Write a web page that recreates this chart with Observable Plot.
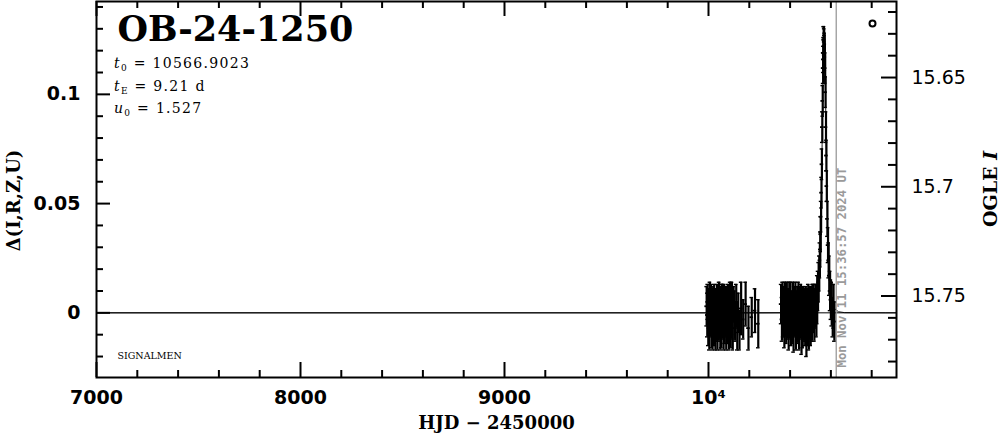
<!DOCTYPE html>
<html><head><meta charset="utf-8">
<script src="https://cdn.jsdelivr.net/npm/d3@7"></script>
<script src="https://cdn.jsdelivr.net/npm/@observablehq/plot@0.6"></script>
<style>body{margin:0;background:#fff}#chart svg{display:block}</style>
</head><body><div id="chart"></div>
<script>
// ---- text ----
const eventName = "OB-24-1250";
const statSym = ["t", "t", "u"];
const statSub = ["0", "E", "0"];
const statVal = ["10566.9023", "9.21 d", "1.527"];
const leftLabel = "Δ(I,R,Z,U)";
const bottomLabel = "HJD − 2450000";
const rightLabel = ["OGLE ", "I"];
const sourceLabel = "SIGNALMEN";
const nowLabel = "Mon Nov 11 15:36:57 2024 UT";
const nowHJD = 10626.15;

// ---- ticks ----
const xMajor = [7000, 8000, 9000, 10000];
const xMajorLabels = ["7000", "8000", "9000", "10⁴"];
const xMinor = [7200, 7400, 7600, 7800, 8200, 8400, 8600, 8800, 9200, 9400, 9600, 9800, 10200, 10400, 10600, 10800];
const yMajor = [0, 0.05, 0.1];
const yMajorLabels = ["0", "0.05", "0.1"];
const yMinor = [-0.02, -0.01, 0.01, 0.02, 0.03, 0.04, 0.06, 0.07, 0.08, 0.09, 0.11, 0.12, 0.13, 0.14];
const magZero = 15.7577;
const magMajor = [15.65, 15.70, 15.75];
const magMajorLabels = ["15.65", "15.7", "15.75"];
const magMinor = [15.62, 15.63, 15.64, 15.66, 15.67, 15.68, 15.69, 15.71, 15.72, 15.73, 15.74, 15.76, 15.77, 15.78];

// ---- observations: 2023 season ----
const s1t = [9991, 9994, 9996, 9999, 10002, 10004, 10007, 10010, 10012, 10015, 10018, 10020, 10023, 10026, 10028, 10031, 10034, 10036, 10039, 10042, 10044, 10047, 10050, 10052, 10055, 10058, 10060, 10063, 10066, 10068, 10071, 10074, 10076, 10079, 10082, 10084, 10087, 10090, 10092, 10095, 10098, 10100, 10103, 10106, 10109, 10112, 10115, 10119, 10123, 10127, 10131, 10136, 10141, 10146, 10152, 10160, 10170, 10182, 10196, 10212, 10228, 10244];
const s1d = [0.003, -0.001, 0.005, -0.004, 0.002, -0.008, 0.004, -0.002, 0.005, -0.006, 0.001, -0.007, 0.003, -0.005, 0.005, -0.003, -0.007, 0.002, -0.001, 0.005, -0.007, 0.000, -0.004, 0.006, -0.002, -0.008, 0.003, -0.006, 0.001, 0.005, -0.003, -0.007, 0.002, -0.005, 0.004, -0.001, -0.008, 0.003, -0.004, 0.005, -0.002, -0.007, 0.001, 0.004, -0.006, -0.003, 0.002, -0.007, 0.004, -0.001, -0.004, 0.003, -0.006, 0.000, -0.008, 0.002, -0.003, 0.004, -0.007, -0.002, 0.001, -0.005];
const s1e = [0.009, 0.010, 0.008, 0.011, 0.009, 0.009, 0.010, 0.009, 0.008, 0.010, 0.010, 0.010, 0.009, 0.010, 0.008, 0.011, 0.010, 0.009, 0.012, 0.008, 0.010, 0.011, 0.009, 0.008, 0.010, 0.009, 0.009, 0.010, 0.012, 0.008, 0.009, 0.010, 0.011, 0.009, 0.008, 0.010, 0.009, 0.009, 0.010, 0.008, 0.012, 0.010, 0.009, 0.010, 0.010, 0.009, 0.012, 0.010, 0.008, 0.011, 0.009, 0.010, 0.011, 0.009, 0.009, 0.012, 0.009, 0.010, 0.010, 0.009, 0.010, 0.011];

// ---- observations: 2024 season, baseline ----
const s2t = [10356, 10360, 10363, 10366, 10369, 10372, 10375, 10378, 10381, 10384, 10387, 10390, 10393, 10396, 10399, 10402, 10405, 10408, 10411, 10414, 10417, 10420, 10423, 10426, 10429, 10432, 10435, 10438, 10441, 10444, 10447, 10450, 10453, 10456, 10459, 10462, 10465, 10468, 10471, 10474, 10477, 10480, 10483, 10486, 10489, 10492, 10495, 10498, 10501, 10504, 10507, 10510, 10514, 10519, 10524, 10529, 10533];
const s2d = [0.004, -0.003, 0.006, -0.001, 0.003, -0.006, 0.005, 0.000, -0.004, 0.005, -0.002, 0.002, -0.007, 0.004, -0.001, 0.005, -0.005, 0.001, -0.003, 0.005, -0.008, 0.002, -0.002, 0.004, -0.006, 0.000, 0.003, -0.004, 0.005, -0.007, 0.001, -0.002, 0.004, -0.009, 0.002, -0.005, 0.003, -0.003, 0.000, -0.006, 0.002, -0.011, 0.001, -0.004, 0.004, -0.007, -0.002, 0.003, -0.005, 0.001, -0.003, 0.004, 0.002, -0.001, 0.003, 0.001, 0.006];
const s2e = [0.009, 0.010, 0.008, 0.010, 0.009, 0.010, 0.009, 0.011, 0.010, 0.009, 0.010, 0.009, 0.010, 0.010, 0.011, 0.009, 0.010, 0.009, 0.011, 0.009, 0.010, 0.010, 0.009, 0.010, 0.011, 0.010, 0.009, 0.010, 0.009, 0.010, 0.011, 0.010, 0.009, 0.010, 0.010, 0.011, 0.009, 0.010, 0.011, 0.009, 0.010, 0.009, 0.010, 0.011, 0.009, 0.010, 0.010, 0.009, 0.010, 0.011, 0.010, 0.009, 0.011, 0.012, 0.010, 0.012, 0.011];

// ---- observations: 2024 event ----
const s3t = [10537, 10540, 10543, 10546, 10548, 10550, 10552, 10554, 10556, 10558, 10560, 10562, 10563, 10564, 10565, 10566, 10567, 10568, 10569, 10570, 10572, 10574, 10576, 10578, 10580, 10583, 10586, 10589, 10592, 10596, 10600, 10604, 10609, 10613, 10617];
const s3d = [0.010, 0.014, 0.018, 0.024, 0.029, 0.036, 0.044, 0.055, 0.068, 0.085, 0.097, 0.112, 0.116, 0.119, 0.125, 0.125, 0.124, 0.122, 0.122, 0.117, 0.112, 0.101, 0.085, 0.072, 0.058, 0.043, 0.031, 0.024, 0.017, 0.010, 0.006, 0.004, -0.002, 0.003, -0.004];
const s3e = [0.009, 0.009, 0.008, 0.008, 0.008, 0.008, 0.007, 0.007, 0.007, 0.007, 0.007, 0.007, 0.006, 0.007, 0.006, 0.006, 0.006, 0.005, 0.006, 0.006, 0.007, 0.007, 0.007, 0.007, 0.007, 0.008, 0.008, 0.008, 0.009, 0.009, 0.009, 0.010, 0.009, 0.010, 0.009];

// ---- model curve ----
const modelT = [7000, 10267, 10467, 10497, 10517, 10527, 10537, 10542, 10547, 10549, 10552, 10555, 10557, 10559, 10561, 10563, 10565, 10567, 10569, 10571, 10573, 10575, 10577, 10579, 10582, 10585, 10587, 10592, 10597, 10607, 10617, 10637, 10667, 10867, 10921];
const modelD = [0, 0, 0.0001, 0.0005, 0.002, 0.004, 0.0098, 0.016, 0.027, 0.034, 0.0465, 0.063, 0.077, 0.091, 0.106, 0.118, 0.127, 0.130, 0.127, 0.118, 0.106, 0.091, 0.077, 0.063, 0.0465, 0.034, 0.027, 0.016, 0.0098, 0.004, 0.002, 0.0005, 0.0001, 0, 0];

// ---- build tables ----
const obs = [];
[[s1t, s1d, s1e], [s2t, s2d, s2e], [s3t, s3d, s3e]].forEach(([T, D, E]) =>
  T.forEach((t, i) => obs.push({t, d: D[i], e: E[i]})));
const model = modelT.map((t, i) => ({t, d: modelD[i]}));

const W = 999, H = 434, mL = 96, mR = 103, mT = 1, mB = 57;
const xDom = [7000, 10921.6], yDom = [-0.0296, 0.1425];
const xPerPx = (xDom[1] - xDom[0]) / (W - mL - mR);
const yPerPx = (yDom[1] - yDom[0]) / (H - mT - mB);
const capHalf = 1.8 * xPerPx;

const sans = "DejaVu Sans", serif = "DejaVu Serif";
const tickW = 2;

const chart = Plot.plot({
  width: W, height: H,
  marginLeft: mL, marginRight: mR, marginTop: mT, marginBottom: mB,
  style: {fontFamily: serif, background: "#fff", overflow: "visible"},
  x: {domain: xDom, axis: null},
  y: {domain: yDom, axis: null},
  marks: [
    // zero line and model
    Plot.ruleY([0], {stroke: "black", strokeWidth: 1}),
    Plot.line(model, {x: "t", y: "d", stroke: "black", strokeWidth: 0.9}),
    // current-time marker
    Plot.ruleX([nowHJD], {stroke: "#9a9a9a", strokeWidth: 1.3}),
    Plot.text([nowLabel], {x: () => nowHJD, frameAnchor: "bottom", dx: 10, dy: -10, rotate: -90, textAnchor: "start",
      text: d => d, fill: "#9a9a9a", fontFamily: "DejaVu Sans Mono", fontWeight: "bold", fontSize: 12.3}),
    // error bars
    Plot.ruleX(obs, {x: "t", y1: d => d.d - d.e, y2: d => d.d + d.e, stroke: "black", strokeWidth: 2.2}),
    Plot.ruleY(obs, {y: d => d.d - d.e, x1: d => d.t - capHalf, x2: d => d.t + capHalf, stroke: "black", strokeWidth: 1.4}),
    Plot.ruleY(obs, {y: d => d.d + d.e, x1: d => d.t - capHalf, x2: d => d.t + capHalf, stroke: "black", strokeWidth: 1.4}),
    Plot.ruleY(obs, {y: "d", x1: d => d.t - capHalf, x2: d => d.t + capHalf, stroke: "black", strokeWidth: 1.8}),
    // ticks: bottom / top
    Plot.ruleX(xMajor, {x: d => d, y1: yDom[0], y2: yDom[0] + 15 * yPerPx, strokeWidth: tickW}),
    Plot.ruleX(xMinor, {x: d => d, y1: yDom[0], y2: yDom[0] + 7 * yPerPx, strokeWidth: tickW}),
    Plot.ruleX(xMajor, {x: d => d, y1: yDom[1], y2: yDom[1] - 15 * yPerPx, strokeWidth: tickW}),
    Plot.ruleX(xMinor, {x: d => d, y1: yDom[1], y2: yDom[1] - 7 * yPerPx, strokeWidth: tickW}),
    // ticks: left (delta) / right (magnitude)
    Plot.ruleY(yMajor, {y: d => d, x1: xDom[0], x2: xDom[0] + 14 * xPerPx, strokeWidth: tickW}),
    Plot.ruleY(yMinor, {y: d => d, x1: xDom[0], x2: xDom[0] + 7 * xPerPx, strokeWidth: tickW}),
    Plot.ruleY(magMajor, {y: m => magZero - m, x1: xDom[1], x2: xDom[1] - 15 * xPerPx, strokeWidth: tickW}),
    Plot.ruleY(magMinor, {y: m => magZero - m, x1: xDom[1], x2: xDom[1] - 8 * xPerPx, strokeWidth: tickW}),
    Plot.frame({stroke: "black", strokeWidth: 2}),
    // tick labels
    Plot.text(xMajor, {x: d => d, frameAnchor: "bottom", dy: 13, lineAnchor: "top", textAnchor: "middle", text: (d, i) => xMajorLabels[i],
      fontFamily: sans, fontWeight: "bold", fontSize: 19}),
    Plot.text(yMajor, {y: d => d, frameAnchor: "left", dx: -16, textAnchor: "end", text: (d, i) => yMajorLabels[i],
      fontFamily: sans, fontWeight: "bold", fontSize: 19}),
    Plot.text(magMajor, {y: m => magZero - m, frameAnchor: "right", dx: 15, textAnchor: "start", text: (d, i) => magMajorLabels[i],
      fontFamily: sans, fontWeight: 500, fontSize: 19}),
    // axis labels
    Plot.text([bottomLabel], {frameAnchor: "bottom", dy: 39, lineAnchor: "top", textAnchor: "middle", text: d => d,
      fontFamily: serif, fontWeight: "bold", fontSize: 18}),
    Plot.text([leftLabel], {frameAnchor: "left", dx: -82, dy: 11, rotate: -90, textAnchor: "middle", text: d => d,
      fontFamily: serif, fontWeight: "bold", fontSize: 18}),
    // title and source
    Plot.text([eventName], {frameAnchor: "top-left", dx: 21, dy: 15, lineAnchor: "top", textAnchor: "start", text: d => d,
      fontFamily: serif, fontWeight: "bold", fontSize: 35, ariaLabel: "event-title"}),
    Plot.text([sourceLabel], {frameAnchor: "bottom-left", dx: 21, dy: -19, lineAnchor: "bottom", textAnchor: "start", text: d => d,
      fontFamily: serif, fontSize: 9.5}),
    // legend symbol
    Plot.dot([0], {frameAnchor: "top-right", dx: -24, dy: 22, r: 3, stroke: "black", strokeWidth: 2, fill: "none"})
  ]
});

document.getElementById("chart").appendChild(chart);
const svg = d3.select(chart);
svg.selectAll("g[aria-label='event-title'] text").style("letter-spacing", "0.6px");

// fit parameters with subscripts
const g = svg.append("g").attr("font-family", serif).attr("font-size", 14).attr("fill", "black").attr("text-anchor", "start");
statSym.forEach((s, i) => {
  const t = g.append("text").attr("x", 114).attr("y", 68 + i * 22.5).style("letter-spacing", "1.3px");
  t.append("tspan").attr("font-style", "italic").text(s);
  t.append("tspan").attr("font-size", 9).attr("dy", 3).text(statSub[i]);
  t.append("tspan").attr("dy", -3).text(" = " + statVal[i]);
});

// right axis label with italic I
const rl = svg.append("text").attr("transform", `translate(${W - mR + 94},${(H - mB + mT) / 2}) rotate(-90)`)
  .attr("text-anchor", "middle").attr("dy", "0.35em").attr("font-family", serif).attr("font-weight", "bold").attr("font-size", 19);
rl.append("tspan").text(rightLabel[0]);
rl.append("tspan").attr("font-style", "italic").text(rightLabel[1]);
</script>
</body></html>
